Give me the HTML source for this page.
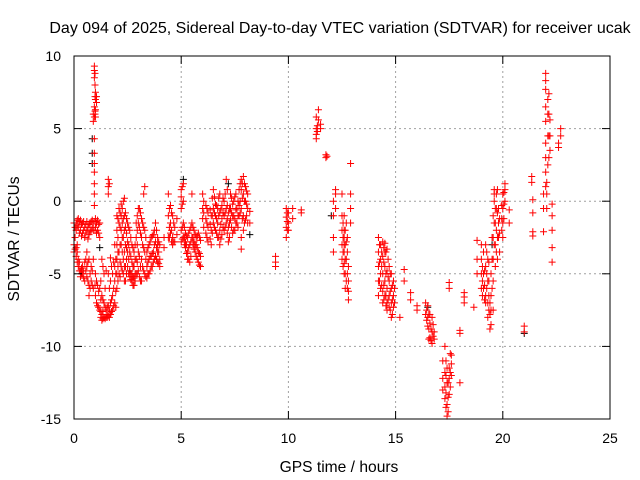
<!DOCTYPE html>
<html><head><meta charset="utf-8">
<style>
html,body{margin:0;padding:0;background:#fff;}
svg{display:block;font-family:"Liberation Sans",sans-serif;}
</style></head>
<body>
<svg id="chart" width="640" height="480" viewBox="0 0 640 480" xmlns="http://www.w3.org/2000/svg">
<rect x="0" y="0" width="640" height="480" fill="#fff"/>
<text x="340" y="33" font-size="16" text-anchor="middle" fill="#000">Day 094 of 2025, Sidereal Day-to-day VTEC variation (SDTVAR) for receiver ucak</text>
<g id="grid"></g>
<g id="black-marks"></g>
<g id="red-marks"></g>
<g id="axes"></g>
<text transform="translate(19,239) rotate(-90)" font-size="15.6" text-anchor="middle">SDTVAR / TECUs</text>
<text x="339" y="472" font-size="15.6" text-anchor="middle">GPS time / hours</text>
</svg>
<script>
const xTicks = [0,5,10,15,20,25];
const yTicks = [10,5,0,-5,-10,-15];
const redHours = [0.0,0.1,0.2,0.3,0.4,0.5,0.6,0.7,0.8,0.9,0.95,1.0,1.05,1.1,1.2,1.3,1.4,1.5,1.6,1.7,1.8,1.9,2.0,2.1,2.2,2.3,2.4,2.5,2.6,2.7,2.8,2.9,3.0,3.1,3.2,3.3,3.4,3.5,3.6,3.7,3.8,3.9,4.0,4.2,4.4,4.5,4.6,4.7,4.8,5.0,5.1,5.2,5.3,5.4,5.5,5.6,5.7,5.8,5.9,6.0,6.2,6.4,6.5,6.6,6.7,6.8,6.9,7.0,7.1,7.2,7.3,7.4,7.5,7.6,7.7,7.8,7.9,8.0,8.1,8.2,
9.4,9.9,10.0,10.2,10.6,11.3,11.4,11.5,11.75,12.1,12.2,12.5,12.6,12.7,12.8,12.9,14.2,14.3,14.4,14.5,14.6,14.7,14.8,14.9,15.2,15.4,15.7,16.0,16.4,16.5,16.6,16.7,16.8,17.2,17.3,17.4,17.5,17.6,18.0,18.2,18.65,18.8,19.0,19.1,19.2,19.3,19.4,19.5,19.6,19.8,20.0,20.1,20.3,21.0,21.35,21.4,21.9,22.0,22.1,22.2,22.3,22.6,22.7];
const redVals = [
[-1.5,-3,-3.5],[-1.5,-2,-3.2,-3.8],[-1.2,-1.8,-4,-4.5],[-1.3,-2,-4.8,-5.2],[-1.5,-2.2,-4.5,-5],[-1.8,-2.5,-4.2,-5.5],[-1.4,-2,-3.5,-4.5,-5.2],[-1.6,-2.3,-4,-5.8,-6.5],[-1.4,-2.0,-4.5,-5.5],[5.5,6,-1.5,-2,-4,-6],
[9.3,9,8.5,6.5,5.8,4.3,3.3,2.6,2,1.2,0.5,-0.3],[7.5,7,6.3,5.8,-1.2,-1.8,-5,-6.5],[7.2,6.8,-1.5,-2.2,-5.5,-7],[-1.3,-2,-5.8,-7.2],[-1.5,-2.5,-6,-7.5],[-4,-6.5,-7.8,-8.2],[-5,-7,-8],[-7.5,-8,-4.8],[1.5,1,0.5,-7.2,-7.9,-5],[-7,-7.8,-5.5,-3.9],
[-6.5,-7.5,-5],[-5.5,-4.5,-3,-7],[-1,-2,-3,-4,-5,-6],[-0.5,-1.5,-3.5,-5],[-0.2,-1,-2,-3,-4.5],[0,-1.2,-2.5,-4,-5],[-0.8,-1.8,-3,-4.5,-5.5],[-1.5,-2.8,-3.5,-4.5],[-2,-3.5,-4.8,-5.2],[-3,-4.2,-5,-5.5],
[-3.5,-4.5,-5.3,-5.8],[-1.5,-2.5,-4,-5],[-0.5,-1.5,-3.5,-4.8],[-0.8,-2.2,-4.5,-5.5],[-1.5,-3,-4.5],[1,-2,-3.5,-5],[-3.5,-4.5,-5.3],[-3,-4,-5],[-2.5,-3.8,-4.5],[-2.3,-3.5,-4.2],
[-1.5,-2.8,-3.8],[-2.5,-3,-3.5,-4.2],[-3,-4,-4.5],[-2.5,-3.2],[0.5,-1,-2.5],[-0.3,-1.5,-2.2],[-1,-2.5,-3],[-1.8,-2.8],[-1.2,-2.3],[0.8,0.3,-0.5,-2,-2.8],
[1.2,0,-1.5,-2.5],[-2.2,-2.8,-3.2],[-2.5,-3.5,-4],[-2,-3,-4.2],[-1.5,0.5,-2.5],[-2,-2.8,-3.3],[-2.5,-3,-3.8],[-2.2,-3.5,-4.2],[-2.7,-3.8,-4.5],[0.5,-0.5,-1.2],
[-0.5,-1.5,-2.5],[-1,-2,-3],[0.8,-0.5,-1.5],[-0.2,-1,-2],[-0.5,-1.5,-2.5],[0.5,-0.8,-2,-3],[-0.3,-1.2,-2.3],[0,-1,-2],[1.5,-0.5,-1.5],[-0.8,-1.8,-2.8],
[0.5,-0.5,-1.3],[-0.2,-1,-2.2],[0.3,-1.2,-2],[-0.5,-1.5],[0.8,-0.3,-1],[1.5,0.8,-0.5,-2.5,-3.3],[1.7,0.5,-1,-2],[1,0,-1.3],[0.5,-0.5,-1.5],[-0.7,-1.5],
[-3.8,-4.2,-4.5],[-0.5,-1.1,-1.8,-2.5],[-0.8,-1.5,-2],[-0.5,-1.2],[-0.6,-0.8],[5.8,5,4.6,4.3],[6.3,5.6],[5.3,5.0],[3.2,3.0],[0,-1,-2.5,-3.5],
[0.8,0.5,-0.5],[0.5,-1,-2,-3,-4],[-1,-2,-2.5,-3,-3.5,-4.3,-5],[-1.5,-2.8,-4,-5.5],[-4.5,-5.5,-6.2,-6.8],[2.6,0.5,-0.5,-1.5],[-2.5,-3.5,-4.5,-5.5,-6.5],[-3,-4,-5,-6],[-2.8,-3.8,-5,-6.2,-7],[-2.9,-3.5,-4.5,-5.5,-6.5],
[-3.3,-4.8,-6,-7,-7.5],[-4.5,-5.5,-6.5,-7.3],[-5,-6,-7,-8],[-5.5,-6.5,-7.3],[-8],[-4.7,-5.5],[-6.3,-6.8],[-7.5,-7.2],[-7,-7.8],[-7.2,-8,-8.6],
[-8.4,-9.4,-7.8],[-8,-9,-9.8],[-9,-9.5],[-11,-12.2,-13],[-10,-11.8,-12.8,-13.6],[-11.5,-12.5,-14,-14.8],[-5.6,-6,-11.5,-12.2,-13.3],[-10.6,-11.2,-12],[-12.5,-9.1,-8.9],[-6.3,-6.6,-7],
[-7.3],[-2.7,-4,-5],[-3,-4,-5,-6],[-5,-6,-3.5],[-3,-4.5,-6.5,-7],[-4,-5.5,-7,-8],[-7,-7.8,-8.8],[-2.5,-4,-6],[0.8,0.5,0,-1.5,-3],[-0.5,-1.5,-2.5],
[0.5,-0.5,-1.5,-2.5],[1.2,0.8,0],[-0.6,-1.5],[-8.6,-9],[1.7,1.3],[0.1,-0.8,-2.1,-2.4],[0.5,-0.5,-2.1],[8.8,8.3,7.7,6.5,5.5,4,3,2,1],[7,6,4.5,2.5],[5.6,4.5,3.5],
[-0.2,-1,-2,-3.2,-4.2],[4,3.7],[5,4.5]
];
// fill-in samples between the main ones (dense regions)
const redHoursB = [0.05,0.15,0.25,0.35,0.45,0.55,0.65,0.75,0.85,0.98,1.15,1.25,1.35,1.45,1.55,1.65,1.75,1.85,1.95,2.05,2.15,2.25,2.35,2.45,2.55,2.65,2.75,2.85,2.95,3.05,3.15,3.25,3.35,3.45,3.55,3.65,3.75,3.85,3.95,4.45,4.55,4.65,5.05,5.15,5.25,5.35,5.45,5.55,5.65,5.75,5.85,6.05,6.15,6.25,6.35,6.45,6.55,6.65,6.75,6.85,6.95,7.05,7.15,7.25,7.35,7.45,7.55,7.65,7.75,7.85,7.95,8.05,
9.95,11.35,11.8,12.55,12.65,12.75,14.25,14.35,14.45,14.55,14.65,14.75,14.85,14.95,16.45,16.55,16.65,16.75,17.35,17.45,17.55,19.05,19.15,19.25,19.35,19.45,19.55,19.65,19.7,19.75,19.85,19.95,20.05,22.05,22.15];
const redValsB = [
[-1.8,-2.5,-3.3],[-1.3,-1.7,-3,-3.5,-4.2],[-1.4,-2.2,-4.2,-4.8],[-1.6,-2.4,-4.6,-5],[-1.4,-2,-4.8,-5.3],[-1.6,-2.2,-4,-4.8],[-1.8,-2.6,-4.2,-5.5],[-1.5,-2.1,-5,-6],[-1.3,-1.8,-4.8,-5.8],[8.8,8,7.2,6.2,6,-1.4,-2,-5.8],
[-1.6,-2.2,-6.2,-7.3],[-5.5,-6.8,-7.6,-8],[-4.5,-6.8,-7.6,-8.1],[-6,-7.3,-8.1],[-7.3,-7.8,-8],[1.2,-7.5,-8,-6],[-6.8,-7.6,-4.5],[-6,-7.2,-4.2],[-4,-5,-6.2,-7.3],[-1.2,-2.5,-3.5,-4.5,-5.5],[-0.8,-1.8,-3,-4.2,-5.2],[-0.5,-1.5,-2.5,-3.5,-4.8],[0.2,-1,-2,-3.5,-4.5,-5.5],[-1.2,-2.2,-3.2,-4,-5],[-1.8,-3,-4,-5],[-2.5,-3.8,-5,-5.4],[-3.2,-4.5,-5.2,-5.8],[-3,-4,-5,-5.5],[-1,-2,-3,-4.2,-5],
[-0.5,-1.8,-3.8,-5.2],[-1.2,-2.5,-4,-5.5],[0.5,-1.8,-3.2,-4.8],[-2.5,-4,-5.2],[-3.2,-4.2,-5],[-2.8,-3.8,-4.8],[-2.4,-3.6,-4.5],[-2,-3,-4],[-2,-3.2,-4],[-2.8,-3.5,-4.3],[-0.5,-1.8,-2.5],[-0.8,-2,-2.8],[-1.5,-2.8],[1,-0.2,-1.8,-2.6],[-1.8,-2.5,-3],[-2.4,-3,-3.6],[-2.2,-3.2,-4],[-1.8,-2.8,-3.8],[-1.8,-2.5,-3],[-2.3,-3,-3.5],[-2.4,-3.2,-4],[-2.5,-3.6,-4.4],[0,-0.8,-1.8],[-0.3,-1.2,-2.2],[-0.8,-1.8,-2.8],[-0.6,-1.6,-2.6],[0.2,-1,-2.2],[0.3,-0.8,-1.8],[-0.3,-1.2,-2.2],[0.2,-1,-2.5],[-0.6,-1.6,-2.6],[0.2,-0.8,-1.8],[0.5,-0.8,-1.8],[0.8,-0.3,-1.2,-2.2],[-0.5,-1.5,-2.5],[0.2,-0.8,-1.8],[0,-1,-2],[0.5,-0.6,-1.5],[0,-1,-1.8],[1.2,0,-0.8],[1.2,0.2,-1.2],[1.2,0,-1.5],[0.7,-0.2,-1],
[-0.8,-1.4,-2],[5.2,4.8],[3.1],[-1.5,-2.5,-3.5,-4.5],[-2,-3,-4,-5,-6],[-2.5,-3.5,-5,-6],[-3,-4.2,-5.5],[-3.5,-4.5,-5.8],[-3.2,-4.2,-5.8,-6.8],[-3.5,-5,-6.5,-7.2],[-4,-5.2,-6.8],[-5,-6.2,-7.5],[-5.8,-6.8,-7.8],[-6,-7],[-7.5,-8.2],[-7.8,-8.8,-9.5],[-8.8,-9.6],[-8.5,-9.3],[-11,-12,-13.2,-14.2],[-12.5,-13.5,-14.5],[-10.5,-11.8,-12.8],
[-4.5,-5.5,-6.5],[-4.8,-5.8,-6.8],[-3.5,-5,-6],[-4.2,-5.5,-6.5,-7.5],[-5,-6.5,-7.5,-8.5],[-1,-2.5,-4,-5.5,-7.5],[-0.5,-1.5,-3,-4.5],[0.5,-0.5,-2,-3.5],[0.8,-0.8,-2.5,-4],[-1.2,-2.2,-3.5],[-0.3,-1.2,-2],[0.6,-0.2,-1.2],[1.3,0.5,-0.5],[7.4,6,4.5,3],[5.8,4.8]
];
const blackHours = [0.85,1.2,2.6,5.1,7.2,8.2,12.0,16.5,19.5,21.0];
const blackVals = [[4.3,3.3,2.6],[-3.2],[-4.8],[1.5],[1.2],[-2.3],[-1],[-7.3],[-3],[-9.1]];

const X0=74, X1=610, Y0=56, Y1=419;
function sx(v){return X0+(v-0)/25*(X1-X0);}
function sy(v){return Y0+(10-v)/25*(Y1-Y0);}
const NS="http://www.w3.org/2000/svg";
function mk(tag,attrs,parent){const e=document.createElementNS(NS,tag);for(const k in attrs)e.setAttribute(k,attrs[k]);parent.appendChild(e);return e;}

const grid=document.getElementById('grid');
xTicks.forEach(t=>{
  if(t>0&&t<25){const l=mk('line',{x1:sx(t),x2:sx(t),y1:Y0,y2:Y1,stroke:'#a0a0a0','stroke-dasharray':'2,3'},grid);
  
  }
});
yTicks.forEach(t=>{
  if(t<10&&t>-15){const l=mk('line',{x1:X0,x2:X1,y1:sy(t),y2:sy(t),stroke:'#a0a0a0','stroke-dasharray':'2,3'},grid);
  
  }
});

function drawSeries(hours,vals,color,g){
  hours.forEach((h,i)=>{
    vals[i].forEach(v=>{
      const x=sx(h), y=sy(v);
      const p=mk('path',{d:`M${x-3.5},${y}H${x+3.5}M${x},${y-3.5}V${y+3.5}`,stroke:color,'stroke-width':1,fill:'none'},g);
      
      
    });
  });
}
drawSeries(blackHours,blackVals,'#000',document.getElementById('black-marks'));
drawSeries(redHours,redVals,'#f00',document.getElementById('red-marks'));
drawSeries(redHoursB,redValsB,'#f00',document.getElementById('red-marks'));

const axes=document.getElementById('axes');
const fr=mk('rect',{x:X0,y:Y0,width:X1-X0,height:Y1-Y0,fill:'none',stroke:'#000','stroke-width':1},axes);


xTicks.forEach(t=>{
  mk('line',{x1:sx(t),x2:sx(t),y1:Y1,y2:Y1-8,stroke:'#000'},axes);
  mk('line',{x1:sx(t),x2:sx(t),y1:Y0,y2:Y0+8,stroke:'#000'},axes);
  const tx=mk('text',{x:sx(t),y:443,'font-size':14,'text-anchor':'middle'},axes);
  tx.textContent=t;
  
  
});
yTicks.forEach(t=>{
  mk('line',{x1:X0,x2:X0+8,y1:sy(t),y2:sy(t),stroke:'#000'},axes);
  mk('line',{x1:X1,x2:X1-8,y1:sy(t),y2:sy(t),stroke:'#000'},axes);
  const tx=mk('text',{x:61,y:sy(t)+5,'font-size':14,'text-anchor':'end'},axes);
  tx.textContent=t;
  
  
});
</script>
</body></html>
